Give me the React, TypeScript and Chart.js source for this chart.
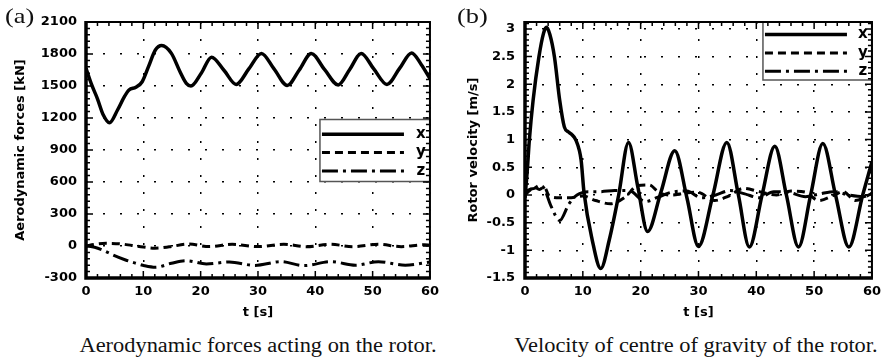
import React, { useEffect, useRef } from "react";
import { Chart, registerables } from "chart.js";
Chart.register(...registerables);

// ---------- data: (a) aerodynamic forces ----------
const forceXTime = [0, 1, 2, 3, 4.1, 5.5, 6.7, 7.5, 8.7, 9.8, 10.9, 12.1, 13.2, 14.9, 16.4, 17.5, 18.3, 20.1, 21.9, 24.1, 26.2, 28.4, 30.6, 32.8, 35.1, 37.2, 39.3, 41.6, 44, 46, 48, 50.2, 52.5, 54.7, 56.8, 58.5, 60];
const forceX = [1665, 1510, 1380, 1230, 1155, 1275, 1400, 1462, 1488, 1540, 1681, 1837, 1880, 1806, 1634, 1525, 1500, 1620, 1770, 1645, 1515, 1660, 1805, 1660, 1505, 1650, 1805, 1655, 1510, 1655, 1805, 1660, 1515, 1665, 1810, 1700, 1570];
const forceYTime = [0, 1.5, 3.5, 6, 8, 10, 12, 14.5, 17.8, 21.5, 25.5, 30, 34.5, 38.5, 42.6, 46.6, 51, 55, 59, 60];
const forceY = [0, 15, 25, 20, 5, -10, -20, -8, 18, -5, 16, -5, 16, -6, 16, -6, 16, -6, 12, 8];
const forceZTime = [0, 1.5, 3, 4.7, 6.9, 8.7, 10.2, 12.1, 14.9, 17.5, 21, 25, 29.5, 34, 38, 42.8, 47, 51, 55.7, 60];
const forceZ = [0, -12, -40, -84, -131, -162, -185, -200, -162, -138, -168, -150, -182, -147, -184, -147, -180, -147, -180, -150];
const forceTicks = [-300, 0, 300, 600, 900, 1200, 1500, 1800, 2100];

// ---------- data: (b) rotor velocity ----------
const velXTime = [0, 0.4, 0.75, 1.4, 2.4, 3.2, 3.7, 4.3, 5.1, 6.0, 6.8, 7.5, 8.0, 8.8, 9.7, 10.2, 11.6, 13.1, 14.6, 16.2, 17.9, 19.5, 21.2, 23.5, 25.9, 28.0, 30.0, 32.5, 34.9, 36.9, 38.8, 41.0, 43.2, 45.2, 47.3, 49.4, 51.5, 53.7, 56.0, 58.4, 60];
const velX = [-0.05, 0.45, 0.99, 1.71, 2.49, 2.92, 3.03, 2.9, 2.49, 1.71, 1.23, 1.14, 1.1, 0.99, 0.63, 0.05, -0.8, -1.33, -0.8, 0.0, 0.95, 0.15, -0.66, 0.05, 0.8, -0.05, -0.93, 0.0, 0.95, 0.0, -0.94, 0.0, 0.88, 0.0, -0.94, 0.0, 0.93, 0.0, -0.94, 0.0, 0.6];
const velYTime = [0, 0.8, 1.6, 2.5, 3.3, 4.2, 6, 8, 10, 12.2, 14.8, 17.3, 19.5, 21.5, 23.2, 25.5, 27.5, 29.8, 32.8, 35.2, 37.8, 40.5, 43.5, 46, 48.5, 50.8, 53.5, 55, 57.1, 60];
const velY = [0, 0.08, 0.14, 0.1, 0.15, -0.02, -0.05, -0.05, -0.02, -0.1, -0.16, -0.04, 0.17, 0.18, 0.04, 0.0, 0.03, 0.05, -0.1, -0.02, 0.12, 0.06, 0.0, 0.07, 0.05, -0.1, 0.0, 0.06, -0.1, 0.03];
const velZTime = [0, 0.8, 1.6, 2.5, 3.3, 4.5, 6.0, 7.6, 9.0, 11, 13, 15.5, 18, 20.8, 23, 25.3, 28, 30.5, 33, 35.5, 38, 40.5, 43, 45.5, 48.5, 51, 53.5, 56, 58.5, 60];
const velZ = [0, 0.1, 0.12, 0.17, 0.12, -0.2, -0.46, -0.16, 0.0, 0.06, 0.06, 0.08, 0.08, -0.12, -0.04, 0.05, 0.07, -0.05, 0.0, 0.08, 0.02, -0.05, 0.06, 0.05, -0.03, 0.02, 0.06, 0.0, -0.03, 0.03];
const velTicks = [-1.5, -1, -0.5, 0, 0.5, 1, 1.5, 2, 2.5, 3];

const timeTicks = [0, 10, 20, 30, 40, 50, 60];
const seriesLabels = ["x", "y", "z"];

const pts = (t: number[], v: number[]) => t.map((x, i) => ({ x, y: v[i] }));

const FONT = "'DejaVu Sans', 'Liberation Sans', sans-serif";

const framePlugin = {
  id: "frame",
  afterDatasetsDraw(chart: any, _args: any, opts: any) {
    const { ctx, chartArea } = chart;
    const { left, right, top, bottom } = chartArea;
    const xs = chart.scales.x;
    const ys = chart.scales.y;

    ctx.save();
    // legend box
    const lg = opts.legend;
    const bx = right - lg.width;
    const by = top + lg.top;
    ctx.fillStyle = "#fff";
    ctx.fillRect(bx, by, lg.width, lg.height);
    ctx.strokeStyle = "#555";
    ctx.lineWidth = 1.5;
    ctx.strokeRect(bx, by, lg.width, lg.height);
    chart.data.datasets.forEach((ds: any, i: number) => {
      const y = by + lg.rows[i];
      ctx.beginPath();
      ctx.setLineDash(ds.borderDash || []);
      ctx.strokeStyle = "#000";
      ctx.lineWidth = ds.borderWidth;
      ctx.moveTo(bx + 2, y);
      ctx.lineTo(bx + lg.sampleEnd, y);
      ctx.stroke();
      ctx.setLineDash([]);
      ctx.fillStyle = "#000";
      ctx.font = `bold 15px ${FONT}`;
      ctx.textAlign = "center";
      ctx.textBaseline = "middle";
      ctx.fillText(ds.label, bx + lg.labelX, y);
    });

    // ticks (major + minor) on all four sides
    ctx.strokeStyle = "#000";
    ctx.lineWidth = 1.5;
    ctx.beginPath();
    const isMajor = (scale: any, v: number) => scale.ticks.some((t: any) => Math.abs(t.value - v) < 1e-6);
    for (let k = 0; ; k++) {
      const v = xs.min + k * opts.xMinor;
      if (v > xs.max + 1e-9) break;
      const px = xs.getPixelForValue(v);
      const len = isMajor(xs, v) ? 7 : 4;
      ctx.moveTo(px, bottom);
      ctx.lineTo(px, bottom - len);
      ctx.moveTo(px, top);
      ctx.lineTo(px, top + len);
    }
    for (let k = 0; ; k++) {
      const v = ys.min + k * opts.yMinor;
      if (v > ys.max + 1e-9) break;
      const py = ys.getPixelForValue(v);
      const len = isMajor(ys, v) ? 7 : 4;
      ctx.moveTo(left, py);
      ctx.lineTo(left + len, py);
      ctx.moveTo(right, py);
      ctx.lineTo(right - len, py);
    }
    ctx.stroke();

    // frame
    ctx.beginPath();
    ctx.lineWidth = 2;
    ctx.moveTo(left, top);
    ctx.lineTo(right, top);
    ctx.lineTo(right, bottom);
    ctx.stroke();
    ctx.beginPath();
    ctx.lineWidth = 3.5;
    ctx.moveTo(left, top - 1);
    ctx.lineTo(left, bottom);
    ctx.lineTo(right + 1, bottom);
    ctx.stroke();
    ctx.restore();
  },
};

function makeConfig(p: {
  xData: { x: number; y: number }[][];
  yTicks: number[];
  yMin: number;
  yMax: number;
  yTitle: string;
  yWidth: number;
  yTitlePad: number;
  yTickPad: number;
  padRight: number;
  yMinor: number;
  legend: any;
}) {
  const dashes = [[], [8, 5], [16, 5, 3, 5]];
  const widths = [3.5, 3, 3];
  const tickFont = { family: FONT, weight: "bold" as const, size: 13 };
  return {
    type: "line" as const,
    data: {
      datasets: p.xData.map((d, i) => ({
        label: seriesLabels[i],
        data: d,
        borderColor: "#000",
        borderWidth: widths[i],
        borderDash: dashes[i],
        pointRadius: 0,
        fill: false,
        cubicInterpolationMode: "monotone" as const,
      })),
    },
    options: {
      animation: false as const,
      responsive: false,
      maintainAspectRatio: false,
      layout: { padding: { left: 0, right: p.padRight, top: 22, bottom: 0 } },
      plugins: {
        legend: { display: false },
        tooltip: { enabled: false },
        frame: { xMinor: 2, yMinor: p.yMinor, legend: p.legend },
      },
      scales: {
        x: {
          type: "linear" as const,
          min: 0,
          max: 60,
          afterBuildTicks: (s: any) => {
            s.ticks = timeTicks.map((v) => ({ value: v }));
          },
          afterFit: (s: any) => {
            s.height = 52;
          },
          grid: { color: "#000", lineWidth: 1.5, drawTicks: false },
          border: { display: false, dash: [2, 15] },
          ticks: { padding: 6, color: "#000", font: tickFont, callback: (v: any) => String(v) },
          title: { display: true, text: "t [s]", color: "#000", font: tickFont, padding: { top: 0, bottom: 10 } },
        },
        y: {
          type: "linear" as const,
          min: p.yMin,
          max: p.yMax,
          afterBuildTicks: (s: any) => {
            s.ticks = p.yTicks.map((v) => ({ value: v }));
          },
          afterFit: (s: any) => {
            s.width = p.yWidth;
          },
          grid: { color: "#000", lineWidth: 1.5, drawTicks: false },
          border: { display: false, dash: [2, 15] },
          ticks: { padding: p.yTickPad, color: "#000", font: tickFont, callback: (v: any) => String(v) },
          title: { display: true, text: p.yTitle, color: "#000", font: tickFont, padding: { top: p.yTitlePad, bottom: 0 } },
        },
      },
    },
    plugins: [framePlugin],
  };
}

function ChartCanvas({ config, left, width, height }: { config: any; left: number; width: number; height: number }) {
  const ref = useRef<HTMLCanvasElement>(null);
  useEffect(() => {
    const chart = new Chart(ref.current as HTMLCanvasElement, config);
    return () => chart.destroy();
  }, []);
  return (
    <canvas
      ref={ref}
      width={width}
      height={height}
      style={{ position: "absolute", left, top: 0, width, height }}
    />
  );
}

const serif = "'Liberation Serif', 'Times New Roman', serif";

export default function App() {
  const forceConfig = makeConfig({
    xData: [pts(forceXTime, forceX), pts(forceYTime, forceY), pts(forceZTime, forceZ)],
    yTicks: forceTicks,
    yMin: -300,
    yMax: 2100,
    yTitle: "Aerodynamic forces [kN]",
    yWidth: 86,
    yTitlePad: 13,
    yTickPad: 9,
    padRight: 8,
    yMinor: 60,
    legend: { width: 110, top: 97.5, height: 62, rows: [14.7, 33, 51.4], sampleEnd: 84, labelX: 101 },
  });
  const velConfig = makeConfig({
    xData: [pts(velXTime, velX), pts(velYTime, velY), pts(velZTime, velZ)],
    yTicks: velTicks,
    yMin: -1.5,
    yMax: 3.125,
    yTitle: "Rotor velocity [m/s]",
    yWidth: 80,
    yTitlePad: 21,
    yTickPad: 10,
    padRight: 10,
    yMinor: 0.1,
    legend: { width: 109, top: 0, height: 58, rows: [12.6, 31, 49.3], sampleEnd: 84, labelX: 100 },
  });

  const caption = (text: string, center: number) => (
    <div
      style={{
        position: "absolute",
        left: center - 250,
        width: 500,
        top: 335,
        textAlign: "center",
        font: `20px ${serif}`,
        lineHeight: "20px",
        color: "#111",
        transform: "scaleX(1.12)",
        transformOrigin: "center",
        whiteSpace: "nowrap",
      }}
    >
      {text}
    </div>
  );
  const panel = (text: string, left: number) => (
    <div
      style={{
        position: "absolute",
        left,
        top: 5,
        font: `22px ${serif}`,
        lineHeight: "22px",
        color: "#111",
        transform: "scaleX(1.2)",
        transformOrigin: "left",
        whiteSpace: "nowrap",
      }}
    >
      {text}
    </div>
  );

  return (
    <div style={{ position: "absolute", left: 0, top: 0, width: 887, height: 359, background: "#fff", overflow: "hidden" }}>
      <ChartCanvas config={forceConfig} left={0} width={445} height={330} />
      <ChartCanvas config={velConfig} left={445} width={442} height={330} />
      {panel("(a)", 5)}
      {panel("(b)", 457)}
      {caption("Aerodynamic forces acting on the rotor.", 258)}
      {caption("Velocity of centre of gravity of the rotor.", 696)}
    </div>
  );
}
